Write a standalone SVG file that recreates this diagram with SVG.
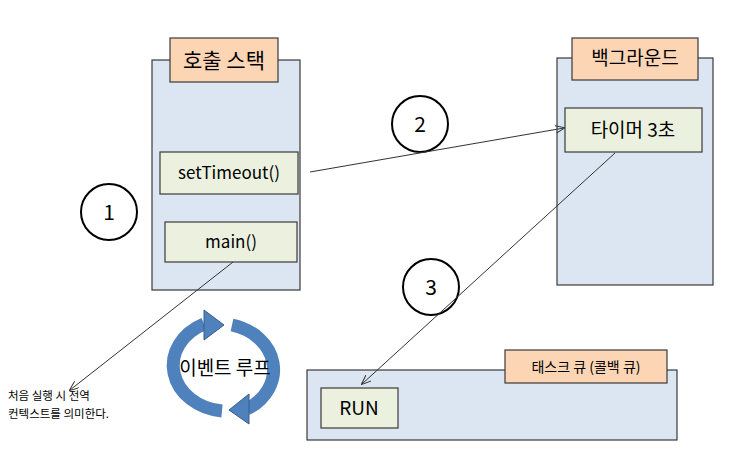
<svg xmlns="http://www.w3.org/2000/svg" width="743" height="475" viewBox="0 0 743 475">
<defs>
<style>
.box{fill:#dce6f2;stroke:#3a3a3a;stroke-width:1.2}
.lbl{fill:#fcd5b5;stroke:#3a3a3a;stroke-width:1.2}
.item{fill:#ebf1de;stroke:#3a3a3a;stroke-width:1.2}
.c{fill:#fff;stroke:#000;stroke-width:2}
text{font-family:"Noto Sans CJK KR","Noto Sans",sans-serif;fill:#000}
.ln{stroke:#333;stroke-width:1;fill:none}
.loop{fill:none;stroke:#4f81bd;stroke-width:13}
.head{fill:#4f81bd;stroke:#385d8a;stroke-width:1}
</style>
<marker id="ah" markerWidth="10" markerHeight="8" refX="9" refY="4" orient="auto" markerUnits="userSpaceOnUse"><path d="M0,0 L10,4 L0,8" fill="none" stroke="#333"/></marker>
</defs>
<rect width="743" height="475" fill="#fff"/>
<g id="stack"><rect class="box" x="152" y="60" width="148" height="230"/><rect class="lbl" x="170" y="38" width="108" height="44"/><text x="224" y="68" font-size="21" text-anchor="middle">호출 스택</text></g>
<g id="setTimeout"><rect class="item" x="160" y="152" width="138" height="42"/><text x="229" y="179" font-size="17" text-anchor="middle">setTimeout()</text></g>
<g id="main"><rect class="item" x="165" y="222" width="132" height="40"/><text x="231" y="248" font-size="17" text-anchor="middle">main()</text></g>
<g id="background"><rect class="box" x="557" y="58" width="156" height="227"/><rect class="lbl" x="572" y="38" width="126" height="42"/><text x="635" y="65" font-size="19" text-anchor="middle">백그라운드</text></g>
<g id="timer"><rect class="item" x="565" y="108" width="137" height="44"/><text x="633" y="137" font-size="19" text-anchor="middle">타이머 3초</text></g>
<g id="queue"><rect class="box" x="307" y="370" width="370" height="70"/><rect class="lbl" x="505" y="350" width="162" height="33"/><text x="586" y="372" font-size="14" text-anchor="middle">태스크 큐 (콜백 큐)</text></g>
<g id="run"><rect class="item" x="321" y="388" width="77" height="40"/><text x="359" y="415" font-size="19" text-anchor="middle">RUN</text></g>
<g id="c1"><circle class="c" cx="109" cy="212" r="28"/><text x="109" y="220" font-size="21" text-anchor="middle">1</text></g>
<g id="c2"><circle class="c" cx="420" cy="124" r="28"/><text x="420" y="132" font-size="21" text-anchor="middle">2</text></g>
<g id="c3"><circle class="c" cx="431" cy="287" r="28"/><text x="431" y="295" font-size="21" text-anchor="middle">3</text></g>
<g id="loop">
<path class="loop" d="M222,411 A55,46 0 0 1 204,324"/>
<polygon class="head" points="204,310 204,340 224,325"/>
<path class="loop" d="M232,325 A55,46 0 0 1 247,409"/>
<polygon class="head" points="249,394 249,424 229,410"/>
<text x="225" y="375" font-size="19" text-anchor="middle">이벤트 루프</text>
</g>
<g id="note"><text x="8" y="400" font-size="11.5">처음 실행 시 전역</text><text x="8" y="418" font-size="11.5">컨텍스트를 의미한다.</text></g>
<g id="connectors">
<line class="ln" x1="310" y1="172" x2="564" y2="128" marker-end="url(#ah)"/>
<line class="ln" x1="615" y1="153" x2="362" y2="384" marker-end="url(#ah)"/>
<line class="ln" x1="233" y1="262" x2="70" y2="390" marker-end="url(#ah)"/>
</g>
</svg>
